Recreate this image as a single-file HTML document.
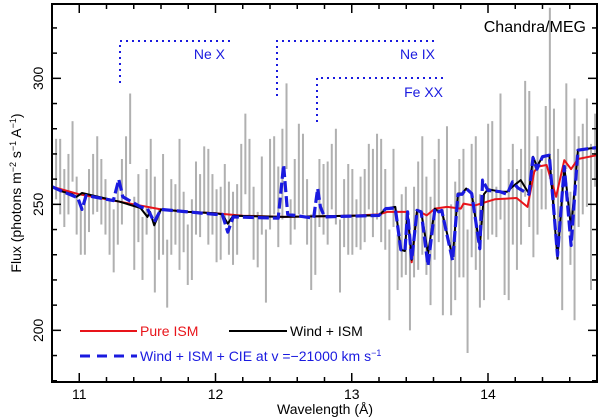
<!DOCTYPE html>
<html><head><meta charset="utf-8"><style>
html,body{margin:0;padding:0;background:#fff;}
svg{display:block;font-family:"Liberation Sans",Arial,sans-serif;}
</style></head><body>
<svg id="chart" width="600" height="420" viewBox="0 0 600 420">
<g id="bars"></g>
<g id="lines"></g>
<g id="axes"></g>
<g id="annot">
  <polyline points="120,83 120,41 230,41" fill="none" stroke="#1a1adf" stroke-width="2" stroke-dasharray="2,4"/>
  <text x="225" y="59" text-anchor="end" font-size="14" fill="#1a1adf">Ne X</text>
  <polyline points="277,96 277,41 435,41" fill="none" stroke="#1a1adf" stroke-width="2" stroke-dasharray="2,4"/>
  <text x="435" y="59" text-anchor="end" font-size="14" fill="#1a1adf">Ne IX</text>
  <polyline points="317,122 317,78 443,78" fill="none" stroke="#1a1adf" stroke-width="2" stroke-dasharray="2,4"/>
  <text x="443" y="97" text-anchor="end" font-size="14" fill="#1a1adf">Fe XX</text>
  <text x="586" y="32" text-anchor="end" font-size="16" fill="#000">Chandra/MEG</text>
</g>
<g id="legend">
  <line x1="80" y1="331" x2="137" y2="331" stroke="#e8141a" stroke-width="2"/>
  <text x="140" y="336" font-size="14" fill="#e8141a">Pure ISM</text>
  <line x1="229" y1="331" x2="287" y2="331" stroke="#000" stroke-width="2"/>
  <text x="290" y="336" font-size="14" fill="#000">Wind + ISM</text>
  <line x1="80" y1="356" x2="137" y2="356" stroke="#1a1adf" stroke-width="3" stroke-dasharray="10,7"/>
  <text x="140" y="361" font-size="14" fill="#1a1adf">Wind + ISM + CIE at v =−21000 km s<tspan dy="-5" font-size="9">−1</tspan></text>
</g>
<text x="325" y="414" text-anchor="middle" font-size="14">Wavelength (Å)</text>
<text transform="translate(21,193) rotate(-90)" text-anchor="middle" font-size="14">Flux (photons m<tspan dy="-5" font-size="9">−2</tspan><tspan dy="5"> s</tspan><tspan dy="-5" font-size="9">−1</tspan><tspan dy="5"> A</tspan><tspan dy="-5" font-size="9">−1</tspan><tspan dy="5">)</tspan></text>
</svg>
<script>
const barStart = 10.83;
const barStep = 0.0302;
const barHigh = [276,276,264,270,283,261,249,254,264,270,277,268,260,252,248,257,268,277,294,253,262,245,264,276,261,248,270,236,260,258,276,255,242,252,267,262,273,272,262,256,257,266,259,255,258,274,286,276,257,247,269,240,276,277,265,280,298,252,268,282,278,260,246,249,268,266,267,274,280,244,260,266,264,252,261,264,274,272,278,276,264,240,272,238,254,257,233,257,267,277,261,253,268,276,248,281,250,259,268,272,240,274,277,254,254,282,283,257,294,252,264,274,264,272,299,295,268,277,264,289,328,288,272,257,298,255,292,277,282,292,274,286];
const barLow = [252,246,241,246,259,238,230,230,239,246,247,242,238,230,223,234,242,253,266,224,235,220,238,248,215,228,230,209,230,234,224,231,218,220,238,237,247,234,238,227,228,242,230,226,230,245,254,245,228,225,238,211,240,246,233,244,264,234,240,246,246,234,216,222,241,238,234,248,242,215,233,230,230,233,232,235,248,237,244,235,232,204,241,216,221,222,200,221,224,230,222,210,228,235,206,240,206,212,221,221,191,229,224,209,212,236,238,237,244,214,212,234,224,234,253,241,229,238,248,248,260,248,234,208,264,226,204,241,246,249,216,257];

const pureLam = [10.8,10.9,11.0,11.2,11.4,11.6,11.8,12.0,12.2,12.5,13.0,13.2,13.26,13.41,13.44,13.48,13.55,13.61,13.7,13.8,13.82,13.9,14.05,14.21,14.29,14.34,14.37,14.43,14.5,14.56,14.61,14.66,14.8];
const pureFlux = [257,255.5,254,252,250,248,247,246.5,245.5,245,245.5,246,247,247,227,247.6,245.6,248.3,249,248.3,250.3,249.5,252,252.5,249,263,265,265.6,253,267.5,264,268,269.5];

const windLam = [10.8,10.88,10.95,10.98,11.02,11.3,11.45,11.5,11.52,11.55,11.6,11.8,12.0,12.05,12.09,12.13,12.5,13.0,13.2,13.25,13.32,13.36,13.39,13.41,13.44,13.48,13.51,13.56,13.61,13.64,13.66,13.74,13.78,13.81,13.84,13.88,13.94,13.97,14.0,14.09,14.14,14.18,14.24,14.3,14.33,14.36,14.4,14.45,14.51,14.56,14.61,14.66,14.75,14.8];
const windFlux = [257,255,254,253,254.5,251,248.5,245,247,241.7,248,247,246.5,246,242.3,245.5,245,245.5,245.6,248.3,249,232,231.5,247,228,247.6,247,230.5,248.3,247,247.6,229,254.3,254.3,256.3,254.3,233,254,256,255,255,257,259.6,254.3,268.9,265,268.9,269.5,228.4,265,240.3,271.5,272.2,272.5];

const cieLam = [10.8,10.88,10.95,10.99,11.02,11.05,11.25,11.29,11.32,11.45,11.5,11.55,11.6,11.8,12.0,12.05,12.09,12.13,12.46,12.5,12.53,12.72,12.75,12.77,12.8,13.2,13.25,13.32,13.36,13.39,13.41,13.44,13.48,13.51,13.56,13.61,13.64,13.66,13.74,13.78,13.81,13.84,13.88,13.94,13.96,14.0,14.09,14.14,14.18,14.22,14.3,14.33,14.36,14.4,14.45,14.51,14.56,14.61,14.66,14.75,14.8];
const cieFlux = [257,255,253.5,252.5,248,253.5,251.5,259.9,253,249,248.3,243,248,247,246,246,239,245,244.5,265.6,246,244.5,256.3,249,245,245.6,248.3,248.5,232,231.5,247,228,247.6,247,225.7,248.3,247,247.6,227.7,254,254,256.3,254.3,232.4,259.6,255.5,255,254,258.9,256.5,254,268.5,264,268.9,269.5,229.7,265,233.7,271.5,272.2,272.5];

const xTicks = [11,12,13,14];
const yTicks = [200,250,300];

const X0=52,X1=597,Y0=4,Y1=382, LMIN=10.8,LMAX=14.8, FMIN=179.5,FMAX=329.5;
function xs(l){return X0+(l-LMIN)/(LMAX-LMIN)*(X1-X0);}
function ys(f){return Y0+(FMAX-f)/(FMAX-FMIN)*(Y1-Y0);}
const NS="http://www.w3.org/2000/svg";
function mk(tag,parent,attrs){const e=document.createElementNS(NS,tag);for(const k in attrs)e.setAttribute(k,attrs[k]);parent.appendChild(e);return e;}

const gb=document.getElementById('bars');
for(let i=0;i<barHigh.length;i++){
  const x=xs(barStart+i*barStep);
  const hi=Math.min(barHigh[i],FMAX);
  const el=mk('line',gb,{x1:x,x2:x,y1:ys(hi),y2:ys(barLow[i]),stroke:'#b0b0b0','stroke-width':2});
  
  
}
const gl=document.getElementById('lines');
function pts(L,F){return L.map((l,i)=>xs(l).toFixed(1)+','+ys(F[i]).toFixed(1)).join(' ');}
const red=mk('polyline',gl,{points:pts(pureLam,pureFlux),fill:'none',stroke:'#e8141a','stroke-width':2,'stroke-linejoin':'round'});


const blk=mk('polyline',gl,{points:pts(windLam,windFlux),fill:'none',stroke:'#000','stroke-width':2,'stroke-linejoin':'round'});


const blu=mk('polyline',gl,{points:pts(cieLam,cieFlux),fill:'none',stroke:'#1a1adf','stroke-width':3.2,'stroke-dasharray':'11,4','stroke-linejoin':'round'});



const ga=document.getElementById('axes');
const frame=mk('rect',ga,{x:X0,y:Y0,width:X1-X0,height:Y1-Y0,fill:'none',stroke:'#000','stroke-width':2});


for(let k=0;k<=20;k++){
  const l=LMIN+k*0.2; if(l>LMAX+1e-6)break;
  const x=xs(l); const major=Math.abs(l-Math.round(l))<1e-6; const len=major?9:5;
  const t1=mk('line',ga,{x1:x,x2:x,y1:Y1,y2:Y1-len,stroke:'#000','stroke-width':1.5});
  
  
  const t2=mk('line',ga,{x1:x,x2:x,y1:Y0,y2:Y0+len,stroke:'#000','stroke-width':1.5});
  
  
}
xTicks.forEach(v=>{
  const t=mk('text',ga,{x:xs(v),y:399,'text-anchor':'middle','font-size':14});
  t.textContent=v;
  
  
});
for(let f=180;f<=320;f+=10){
  const y=ys(f); const major=f%50===0; const len=major?9:5;
  const t1=mk('line',ga,{x1:X0,x2:X0+len,y1:y,y2:y,stroke:'#000','stroke-width':1.5});
  
  
  const t2=mk('line',ga,{x1:X1,x2:X1-len,y1:y,y2:y,stroke:'#000','stroke-width':1.5});
  
  
}
yTicks.forEach(v=>{
  const t=mk('text',ga,{transform:'translate(43,'+ys(v)+') rotate(-90)','text-anchor':'middle','font-size':14});
  t.textContent=v;
  
  
});
</script>
</body></html>
